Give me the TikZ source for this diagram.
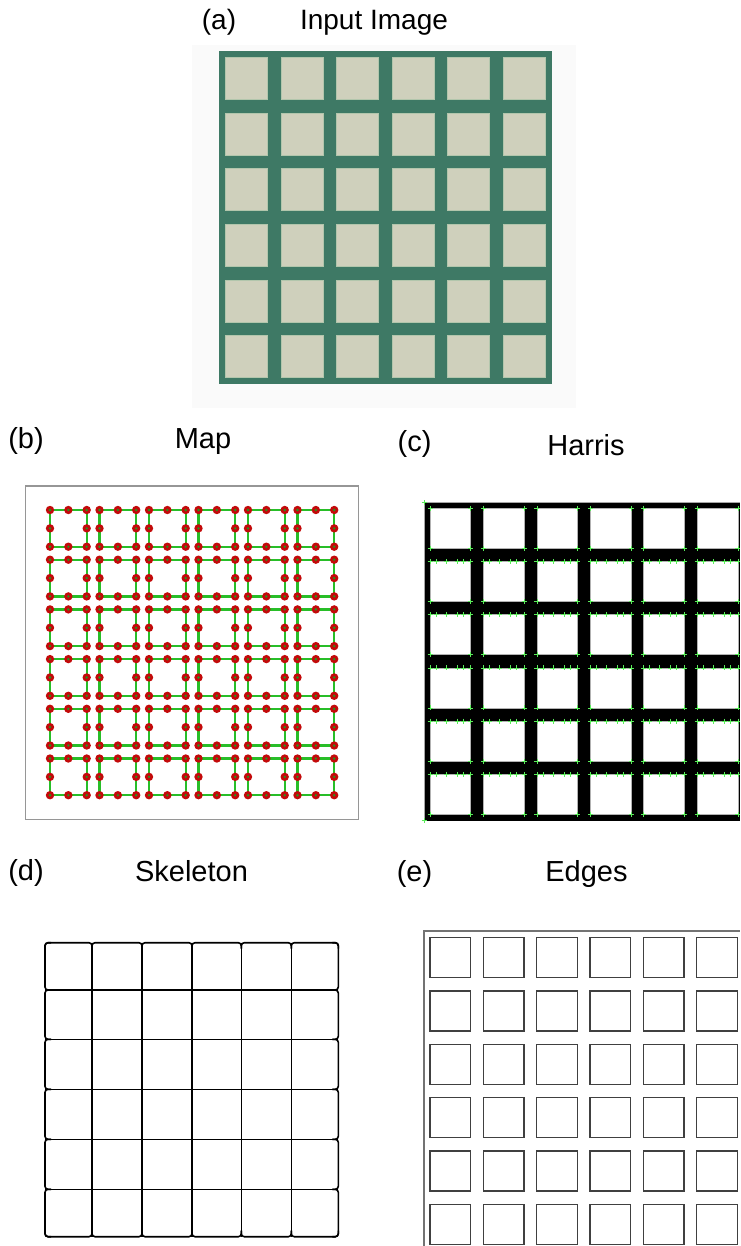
\documentclass[tikz,border=0pt]{standalone}
\usepackage{fontspec}
\setmainfont{Liberation Sans}
\definecolor{boardgreen}{RGB}{62,121,101}
\definecolor{tilegray}{RGB}{207,208,188}
\definecolor{tileedge}{RGB}{178,198,172}
\definecolor{mapred}{RGB}{195,10,10}
\definecolor{mapgreen}{RGB}{40,190,40}
\definecolor{harrisgreen}{RGB}{90,235,90}
\definecolor{framegray}{RGB}{150,150,150}

\begin{document}
\begin{tikzpicture}[x=1pt, y=-1pt,
	   lbl/.style={anchor=base, inner sep=0pt, font=\fontsize{29}{30}\selectfont},
	   hmark/.pic={\draw[harrisgreen, line width=.8pt] (-2.5,0)--(2.5,0) (0,-2.5)--(0,2.5);}]
	  \useasboundingbox (0,0) rectangle (740,1246);
	  % labels
	  \node[lbl, font=\fontsize{28}{30}\selectfont] (tagA) at (219,30) {(a)};
	  \node[lbl, font=\fontsize{28}{30}\selectfont] (titleA) at (374,30) {Input Image};
	  \node[lbl] (tagB) at (26,448) {(b)};
	  \node[lbl] (titleB) at (203,448) {Map};
	  \node[lbl] (tagC) at (414.5,451) {(c)};
	  \node[lbl] (titleC) at (586,455) {Harris};
	  \node[lbl] (tagD) at (26,880) {(d)};
	  \node[lbl] (titleD) at (191.5,881) {Skeleton};
	  \node[lbl] (tagE) at (414.5,881) {(e)};
	  \node[lbl] (titleE) at (586.5,881) {Edges};
	  % (a) input image
	  \fill[black!2] (192,45) rectangle (576,408);
	  \fill[boardgreen] (219,50.7) rectangle (552.3,384);
	  \foreach \i in {0,...,5}
	    \foreach \j in {0,...,5}
	      \draw[tileedge, fill=tilegray, line width=.8pt]
	        ({225.7+55.5*\i},{57.7+55.6*\j}) rectangle +(42,42);
	  % (b) map
	  \draw[framegray, line width=1.3pt] (25.7,486) rectangle (358.3,819.3);
	  \foreach \i in {0,...,5}
	    \foreach \j in {0,...,5} {
	      \draw[mapgreen, line width=2.4pt] ({50+49.5*\i},{510+49.7*\j}) rectangle +(36.7,36.7);
	      \foreach \u/\v in {0/0,18.35/0,36.7/0,0/18.35,36.7/18.35,0/36.7,18.35/36.7,36.7/36.7} {
	        \fill[mapred] ({50+49.5*\i+\u},{510+49.7*\j+\v}) circle (4.2);
	        \fill[mapgreen!80!black] ({50+49.5*\i+\u},{510+49.7*\j+\v}) circle (1.3);
	      }
	    }
	  % (c) harris
	  \fill[black] (424,502.7) rectangle (740,820.7);
	  \draw[black!35, line width=1pt] (424,820.7) -- (424,502.7) -- (740,502.7);
	  \foreach \i in {0,...,5}
	    \foreach \j in {0,...,5} {
	      \draw[black!30, fill=white, line width=.8pt] ({430+53.45*\i},{508.3+53.2*\j}) rectangle +(40.7,40);
	      \foreach \u in {0,40.7}
	        \foreach \v in {0,40}
	          \pic at ({430+53.45*\i+\u},{508.3+53.2*\j+\v}) {hmark};
	      \ifnum\j>0
	        \foreach \u in {6,16,27,33}
	          \pic at ({430+53.45*\i+\u},{508.3+53.2*\j}) {hmark};
	      \fi
	    }
	  \pic at (424,502.7) {hmark};
	  \pic at (424,820.7) {hmark};
	  % (d) skeleton
	  \foreach \x in {92,142,192,241.3,291.3}
	    \draw[line width=1.6pt] (\x,942.7) -- (\x,1236.7);
	  \foreach \y in {990,1039.3,1089.3,1139.3,1189.3}
	    \draw[line width=1.6pt] (45,\y) -- (338.3,\y);
	  \foreach \xa/\xb in {45/92,92/142,142/192,192/241.3,241.3/291.3,291.3/338.3} {
	    \draw[line width=1.6pt, rounded corners=3pt] (\xa,948.7) -- (\xa,942.7) -- (\xb,942.7) -- (\xb,948.7);
	    \draw[line width=1.6pt, rounded corners=3pt] (\xa,1230.7) -- (\xa,1236.7) -- (\xb,1236.7) -- (\xb,1230.7);
	  }
	  \foreach \ya/\yb in {942.7/990,990/1039.3,1039.3/1089.3,1089.3/1139.3,1139.3/1189.3,1189.3/1236.7} {
	    \draw[line width=1.6pt, rounded corners=3pt] (51,\ya) -- (45,\ya) -- (45,\yb) -- (51,\yb);
	    \draw[line width=1.6pt, rounded corners=3pt] (332.3,\ya) -- (338.3,\ya) -- (338.3,\yb) -- (332.3,\yb);
	  }
	  % (e) edges
	  \draw[black!55, line width=1.2pt] (424,1246) -- (424,931) -- (740,931);
	  \foreach \i in {0,...,5}
	    \foreach \j in {0,...,5}
	      \draw[black!75, line width=1.1pt] ({430+53.33*\i},{937.7+53.33*\j}) rectangle +(40.7,40);
	\end{tikzpicture}
\end{document}
